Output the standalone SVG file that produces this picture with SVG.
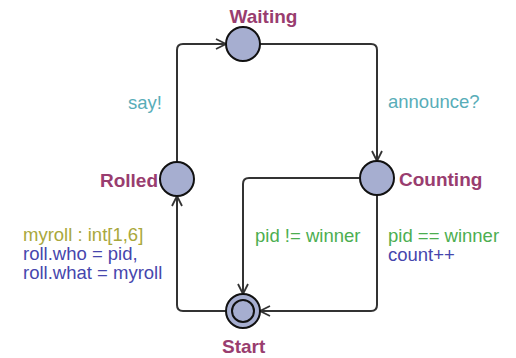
<svg xmlns="http://www.w3.org/2000/svg" width="516" height="358" viewBox="0 0 516 358">
<style>
.loc{fill:#a6aed0;stroke:#111;stroke-width:2}
.name{font-family:"Liberation Sans",Arial,sans-serif;font-weight:bold;font-size:19px;fill:#993d6f}
.lbl{font-family:"Liberation Sans",Arial,sans-serif;font-size:18.5px}
.sync{fill:#58adb8}
.guard{fill:#4cae50}
.upd{fill:#4646ad}
.sel{fill:#a9a83c}
.edge{fill:none;stroke:#333;stroke-width:2;marker-end:url(#arr)}
</style>
<defs>
<marker id="arr" markerUnits="userSpaceOnUse" markerWidth="14" markerHeight="14" refX="11" refY="7" orient="auto">
<path d="M1,2 L11,7 L1,12" fill="none" stroke="#333" stroke-width="1.8"/>
</marker>
</defs>
<rect width="516" height="358" fill="#fff"/>
<g id="connectors">
<path class="edge" d="M177,162 L177,50 Q177,44 183,44 L226,44"/>
<path class="edge" d="M260,44 L371,44 Q377,44 377,50 L377,161"/>
<path class="edge" d="M359,178 L249,178 Q243,178 243,184 L243,294"/>
<path class="edge" d="M377,195 L377,305 Q377,311 371,311 L260,311"/>
<path class="edge" d="M226,311 L183,311 Q177,311 177,305 L177,196"/>
</g>
<g id="Waiting"><circle class="loc" cx="243" cy="44" r="17"/><text class="name" x="229.5" y="23">Waiting</text></g>
<g id="Counting"><circle class="loc" cx="377" cy="178" r="17"/><text class="name" x="399" y="186">Counting</text></g>
<g id="Rolled"><circle class="loc" cx="177" cy="179" r="17"/><text class="name" x="158" y="187" text-anchor="end">Rolled</text></g>
<g id="Start"><circle class="loc" cx="243" cy="311" r="17"/><circle cx="243" cy="311" r="11" fill="none" stroke="#111" stroke-width="2"/><text class="name" x="222" y="353">Start</text></g>
<g id="labels">
<text class="lbl sync" x="128" y="109">say!</text>
<text class="lbl sync" x="388" y="108">announce?</text>
<text class="lbl guard" x="255" y="242">pid != winner</text>
<text class="lbl guard" x="388" y="242">pid == winner</text>
<text class="lbl upd" x="388" y="261">count++</text>
<text class="lbl sel" x="23" y="241">myroll : int[1,6]</text>
<text class="lbl upd" x="23" y="260">roll.who = pid,</text>
<text class="lbl upd" x="23" y="279">roll.what = myroll</text>
</g>
</svg>
